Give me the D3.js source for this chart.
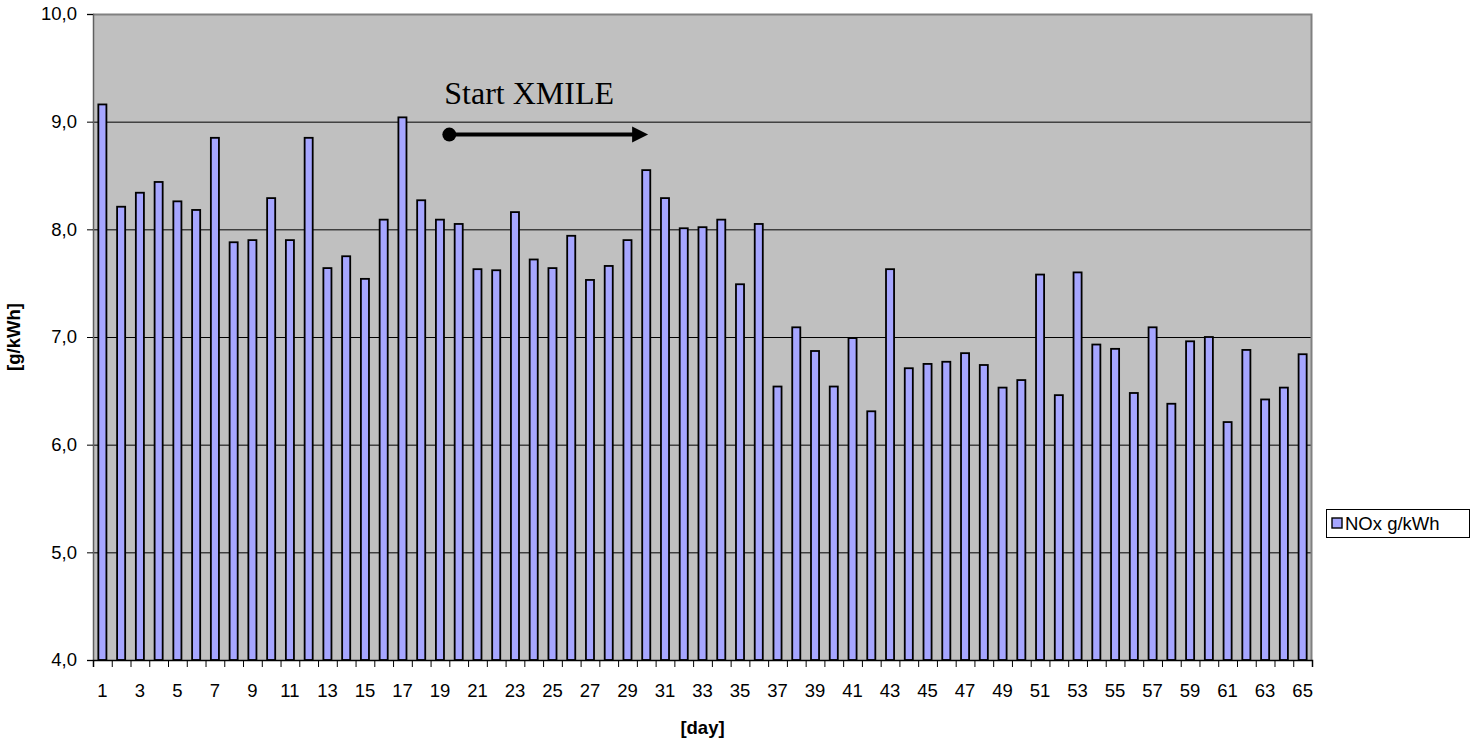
<!DOCTYPE html>
<html>
<head>
<meta charset="utf-8">
<script src="https://cdn.jsdelivr.net/npm/d3@7/dist/d3.min.js"></script>
<style>
  body { margin: 0; background: #fff; }
  svg { display: block; font-family: Arial, "Liberation Sans", Helvetica, sans-serif; }
</style>
</head>
<body>
<svg id="chart" width="1482" height="742"></svg>
<script>
// Daily NOx emission values [g/kWh], days 1..65
const days = d3.range(1, 66);
const noxValues = [
  9.16, 8.21, 8.34, 8.44, 8.26, 8.18, 8.85, 7.88, 7.90, 8.29,
  7.90, 8.85, 7.64, 7.75, 7.54, 8.09, 9.04, 8.27, 8.09, 8.05,
  7.63, 7.62, 8.16, 7.72, 7.64, 7.94, 7.53, 7.66, 7.90, 8.55,
  8.29, 8.01, 8.02, 8.09, 7.49, 8.05, 6.54, 7.09, 6.87, 6.54,
  6.99, 6.31, 7.63, 6.71, 6.75, 6.77, 6.85, 6.74, 6.53, 6.60,
  7.58, 6.46, 7.60, 6.93, 6.89, 6.48, 7.09, 6.38, 6.96, 7.00,
  6.21, 6.88, 6.42, 6.53, 6.84
];
const yTicks = [4, 5, 6, 7, 8, 9, 10];
const xTickLabels = days.filter(d => d % 2 === 1);
const seriesName = "NOx g/kWh";
// Annotation: arrow from the boundary of days 19/20 to day 30
const annotation = { label: "Start XMILE", fromDay: 19.5, toDay: 30.1, value: 8.88, labelValue: 9.16 };

const svg = d3.select("#chart");
const plot = { left: 93, right: 1312, top: 14, bottom: 660 };

const x = d3.scaleBand()
  .domain(days)
  .range([plot.left, plot.right])
  .paddingInner(0.57)
  .paddingOuter(0.285);

// continuous day scale (category centres at integer days)
const xDay = d3.scaleLinear()
  .domain([0.5, 65.5])
  .range([plot.left, plot.right]);

const y = d3.scaleLinear()
  .domain([4, 10])
  .range([plot.bottom, plot.top]);

// plot background
svg.append("rect")
  .attr("x", plot.left).attr("y", plot.top)
  .attr("width", plot.right - plot.left)
  .attr("height", plot.bottom - plot.top)
  .attr("fill", "#c0c0c0");

// gridlines
svg.append("g")
  .selectAll("line")
  .data(yTicks.filter(t => t > 4 && t < 10))
  .join("line")
  .attr("x1", plot.left).attr("x2", plot.right)
  .attr("y1", d => y(d) + 0.5).attr("y2", d => y(d) + 0.5)
  .attr("stroke", "#000").attr("stroke-width", 1);

// top and right border of plot area
svg.append("path")
  .attr("d", `M${plot.left},${plot.top + 0.5}H${plot.right - 0.5}V${plot.bottom}`)
  .attr("fill", "none")
  .attr("stroke", "#808080")
  .attr("stroke-width", 2);

// bars
svg.append("g")
  .selectAll("rect")
  .data(days.map((d, i) => ({ day: d, value: noxValues[i] })))
  .join("rect")
  .attr("x", d => x(d.day))
  .attr("y", d => y(d.value))
  .attr("width", x.bandwidth())
  .attr("height", d => y(4) - y(d.value))
  .attr("fill", "#a6a6ff")
  .attr("stroke", "#000")
  .attr("stroke-width", 1.8);

// y axis
const yAxis = svg.append("g")
  .attr("transform", `translate(${plot.left},0)`)
  .call(d3.axisLeft(y)
    .tickValues(yTicks)
    .tickSize(6)
    .tickPadding(10)
    .tickFormat(d => d3.format(".1f")(d).replace(".", ",")));
yAxis.select(".domain").attr("stroke", "#606060").attr("stroke-width", 1.5);
yAxis.selectAll(".tick line").attr("stroke", "#000");
yAxis.selectAll("text")
  .attr("font-size", 18.5)
  .attr("font-family", "Arial, 'Liberation Sans', sans-serif")
  .attr("fill", "#000");

// x axis: tick marks at category boundaries
const xBoundaryAxis = svg.append("g")
  .attr("transform", `translate(0,${plot.bottom})`)
  .call(d3.axisBottom(xDay)
    .tickValues(d3.range(0.5, 66, 1))
    .tickSize(7)
    .tickFormat(""));
xBoundaryAxis.select(".domain").attr("stroke", "#000").attr("stroke-width", 1.5);
xBoundaryAxis.selectAll(".tick line").attr("stroke", "#000");

// x axis labels on every other day
const xLabelAxis = svg.append("g")
  .attr("transform", `translate(0,${plot.bottom})`)
  .call(d3.axisBottom(x)
    .tickValues(xTickLabels)
    .tickSize(0)
    .tickPadding(24));
xLabelAxis.select(".domain").remove();
xLabelAxis.selectAll("text")
  .attr("font-size", 18.5)
  .attr("font-family", "Arial, 'Liberation Sans', sans-serif")
  .attr("fill", "#000");

// axis titles
svg.append("text")
  .attr("x", (plot.left + plot.right) / 2)
  .attr("y", 734)
  .attr("text-anchor", "middle")
  .attr("font-size", 18.5)
  .attr("font-weight", "bold")
  .text("[day]");

svg.append("text")
  .attr("transform", "translate(20,337) rotate(-90)")
  .attr("text-anchor", "middle")
  .attr("font-size", 18.5)
  .attr("font-weight", "bold")
  .text("[g/kWh]");

// annotation arrow: shaft, round start point and triangular head
const ax0 = xDay(annotation.fromDay);
const ax1 = xDay(annotation.toDay);
const ay = y(annotation.value);
const headLen = 16, headHalf = 8;

svg.append("line")
  .attr("x1", ax0).attr("y1", ay)
  .attr("x2", ax1 - headLen + 1).attr("y2", ay)
  .attr("stroke", "#000")
  .attr("stroke-width", 4);

svg.append("path")
  .attr("d", `M${ax1},${ay}L${ax1 - headLen},${ay - headHalf}L${ax1 - headLen},${ay + headHalf}Z`)
  .attr("fill", "#000");

svg.append("circle")
  .attr("cx", ax0).attr("cy", ay)
  .attr("r", 7)
  .attr("fill", "#000");

svg.append("text")
  .attr("x", ax0 - 5)
  .attr("y", y(annotation.labelValue))
  .attr("font-family", "'Liberation Serif', 'Times New Roman', serif")
  .attr("font-size", 32)
  .attr("fill", "#000")
  .text(annotation.label);

// legend
const legend = svg.append("g").attr("transform", "translate(1326,509)");
legend.append("rect")
  .attr("x", 0.5).attr("y", 0.5)
  .attr("width", 143).attr("height", 28)
  .attr("fill", "#fff")
  .attr("stroke", "#000")
  .attr("stroke-width", 1);
legend.append("rect")
  .attr("x", 6).attr("y", 9)
  .attr("width", 10).attr("height", 10)
  .attr("fill", "#a6a6ff")
  .attr("stroke", "#000")
  .attr("stroke-width", 1.4);
legend.append("text")
  .attr("x", 19)
  .attr("y", 21)
  .attr("font-size", 18.5)
  .attr("fill", "#000")
  .text(seriesName);
</script>
</body>
</html>
